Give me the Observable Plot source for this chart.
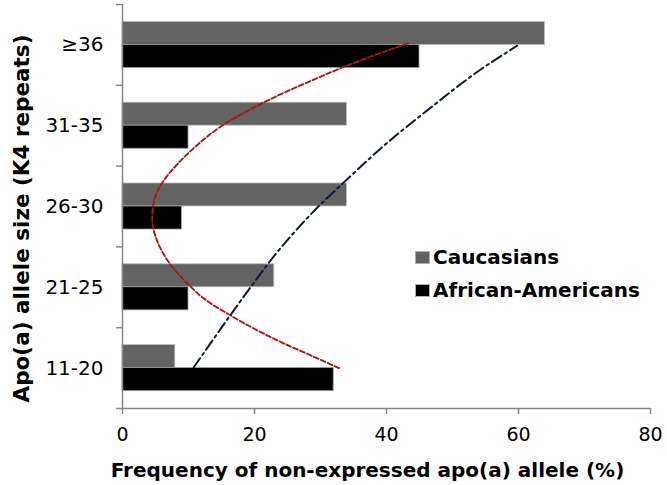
<!DOCTYPE html>
<html>
<head>
<meta charset="utf-8">
<script src="https://cdn.jsdelivr.net/npm/d3@7"></script>
<script src="https://cdn.jsdelivr.net/npm/@observablehq/plot@0.6"></script>
<style>
  html, body { margin: 0; padding: 0; background: #fff; }
  #chart { position: relative; width: 667px; height: 485px; font-family: "DejaVu Sans", Verdana, sans-serif; }
  .legend { position: absolute; left: 415px; font-weight: bold; font-size: 20px; color: #000; display: flex; align-items: center; line-height: 1; }
  .legend .sw { width: 15px; height: 13px; margin-right: 3px; box-sizing: border-box; border: 1px solid #b0b0b0; }
</style>
</head>
<body>
<div id="chart"></div>
<script>
// ---- data ----
const categories = ["11-20", "21-25", "26-30", "31-35", "≥36"];
const caucasians = [8, 23, 34, 34, 64];
const africanAmericans = [32, 10, 9, 10, 45];
const seriesNames = ["Caucasians", "African-Americans"];
const xTicks = [0, 20, 40, 60, 80];
const xTitle = "Frequency of non-expressed apo(a) allele (%)";
const yTitle = "Apo(a) allele size (K4 repeats)";

// trend lines (category position, value)
const redTrendPos = [1.00, 1.14, 1.30, 1.49, 1.67, 1.82, 2.05, 2.30, 2.46, 2.63, 2.83, 3.04, 3.29, 3.54, 3.78, 3.99, 4.11, 4.32, 4.57, 4.73, 5.02];
const redTrendVal = [32.8, 29.0, 24.6, 19.9, 16.0, 13.0, 9.8, 7.1, 5.9, 5.0, 4.5, 4.7, 6.0, 8.5, 11.6, 14.9, 17.3, 22.2, 29.0, 33.6, 43.3];
const blueTrendPos = [1.01, 1.50, 2.00, 2.50, 2.76, 3.01, 3.28, 3.78, 4.23, 4.68, 4.99];
const blueTrendVal = [10.8, 15.0, 19.4, 24.1, 26.9, 29.8, 33.3, 40.0, 46.8, 54.0, 59.8];

// ---- build tables ----
const BAR = 0.285; // bar thickness in category units
const cauRows = categories.map((c, i) => ({cat: c, pos: i + 1, v: caucasians[i]}));
const afrRows = categories.map((c, i) => ({cat: c, pos: i + 1, v: africanAmericans[i]}));
const redRows = redTrendPos.map((p, i) => ({p, v: redTrendVal[i]}));
const blueRows = blueTrendPos.map((p, i) => ({p, v: blueTrendVal[i]}));
const catPositions = categories.map((c, i) => i + 1);
const boundaries = d3.range(0, categories.length + 1).map(i => i + 0.5);

const axisColor = "#868686";
const font = "DejaVu Sans, Verdana, sans-serif";

const plot = Plot.plot({
  width: 667,
  height: 485,
  marginLeft: 122,
  marginRight: 17,
  marginTop: 4,
  marginBottom: 77,
  style: {fontFamily: font, background: "#fff", overflow: "visible"},
  x: {domain: [0, 80]},
  y: {domain: [0.5, 5.5]},
  marks: [
    Plot.rectX(cauRows, {x1: 0, x2: "v", y1: "pos", y2: d => d.pos + BAR, fill: "#636363", stroke: "#bdbdbd", strokeWidth: 0.8}),
    Plot.rectX(afrRows, {x1: 0, x2: "v", y1: d => d.pos - BAR, y2: "pos", fill: "#000", stroke: "#9a9a9a", strokeWidth: 0.8}),
    Plot.line(redRows, {x: "v", y: "p", stroke: "#a8171a", strokeWidth: 1.9, strokeDasharray: "5,2.5", curve: "monotone-y"}),
    Plot.line(blueRows, {x: "v", y: "p", stroke: "#0e1a36", strokeWidth: 2, strokeDasharray: "11,4,2.5,4", curve: "monotone-y"}),
    Plot.ruleX([0], {stroke: axisColor, strokeWidth: 1.5}),
    Plot.ruleY([0.5], {stroke: axisColor, strokeWidth: 1.5}),
    Plot.axisX({ticks: xTicks, tickSize: 6, tickPadding: 13, fontSize: 19, stroke: axisColor, strokeWidth: 1.5, color: "#000", label: null}),
    Plot.axisY({ticks: boundaries, tickSize: 6, tickFormat: () => "", stroke: axisColor, strokeWidth: 1.5, label: null}),
    Plot.axisY({ticks: catPositions, tickSize: 0, tickPadding: 19, fontSize: 20, tickFormat: d => categories[d - 1], color: "#000", label: null}),
    Plot.text([xTitle], {frameAnchor: "bottom", dx: -19, dy: 62, fontSize: 20, fontWeight: "bold", fill: "#000", textAnchor: "middle", lineAnchor: "middle"}),
    Plot.text([yTitle], {frameAnchor: "left", rotate: -90, dx: -100, dy: 12, fontSize: 21.5, fontWeight: "bold", fill: "#000", textAnchor: "middle", lineAnchor: "middle"})
  ]
});

const chart = document.getElementById("chart");
chart.appendChild(plot);

const legendColors = ["#636363", "#000"];
const legendTops = [247, 280];
seriesNames.forEach((name, i) => {
  const item = document.createElement("div");
  item.className = "legend";
  item.style.top = legendTops[i] + "px";
  const sw = document.createElement("span");
  sw.className = "sw";
  sw.style.background = legendColors[i];
  const label = document.createElement("span");
  label.textContent = name;
  item.appendChild(sw);
  item.appendChild(label);
  chart.appendChild(item);
});
</script>
</body>
</html>
